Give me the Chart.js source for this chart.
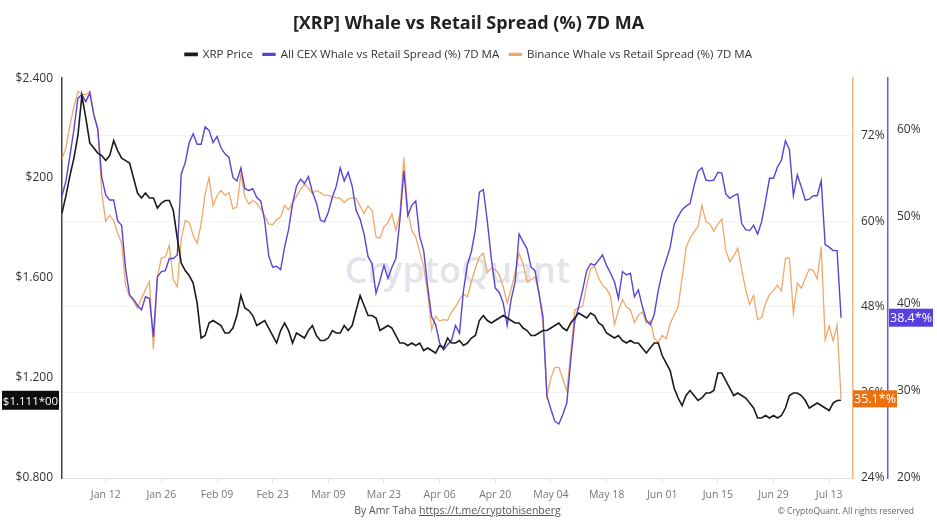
<!DOCTYPE html>
<html>
<head>
<meta charset="utf-8">
<script src="https://cdn.jsdelivr.net/npm/chart.js@4.4.1/dist/chart.umd.min.js"></script>
<style>
  body { margin: 0; background: #fff; }
  #wrap { position: relative; width: 937px; height: 527px; font-family: "Open Sans", sans-serif; }
  #footer-by { position: absolute; top: 503px; left: 62px; width: 791px; text-align: center; font-size: 10.5px; color: #555; }
  #footer-by a { color: #555; }
  #footer-copy { position: absolute; top: 505px; right: 23px; font-size: 8.5px; color: #666; }
</style>
</head>
<body>
<div id="wrap">
  <canvas id="chart" width="937" height="527"></canvas>
  <div id="footer-by">By Amr Taha <a href="#">https://t.me/cryptohisenberg</a></div>
  <div id="footer-copy">© CryptoQuant. All rights reserved</div>
</div>
<script>
// daily values, Jan 01 -> Jul 16
const xrpPrice = [
  1.86, 1.93, 2.01, 2.08, 2.17, 2.33, 2.24, 2.14, 2.12, 2.10,
  2.09, 2.07, 2.09, 2.15, 2.11, 2.08, 2.07, 2.06, 2.00, 1.94,
  1.92, 1.94, 1.92, 1.92, 1.88, 1.90, 1.91, 1.91, 1.87, 1.76,
  1.66, 1.63, 1.61, 1.58, 1.50, 1.36, 1.37, 1.42, 1.43, 1.42,
  1.41, 1.38, 1.38, 1.40, 1.45, 1.53, 1.48, 1.47, 1.45, 1.41,
  1.42, 1.43, 1.40, 1.37, 1.34, 1.39, 1.42, 1.39, 1.34, 1.38,
  1.37, 1.36, 1.39, 1.41, 1.37, 1.35, 1.35, 1.36, 1.39, 1.38,
  1.38, 1.41, 1.39, 1.41, 1.47, 1.53, 1.49, 1.45, 1.45, 1.44,
  1.39, 1.40, 1.41, 1.40, 1.37, 1.34, 1.34, 1.33, 1.34, 1.33,
  1.34, 1.31, 1.32, 1.31, 1.30, 1.33, 1.32, 1.36, 1.34, 1.34,
  1.35, 1.33, 1.34, 1.36, 1.37, 1.43, 1.45, 1.43, 1.42, 1.43,
  1.44, 1.45, 1.44, 1.43, 1.42, 1.42, 1.40, 1.39, 1.37, 1.37,
  1.38, 1.39, 1.39, 1.40, 1.41, 1.42, 1.40, 1.39, 1.42, 1.44,
  1.46, 1.45, 1.44, 1.46, 1.45, 1.42, 1.41, 1.38, 1.37, 1.36,
  1.37, 1.35, 1.34, 1.35, 1.34, 1.34, 1.32, 1.30, 1.32, 1.34,
  1.34, 1.29, 1.26, 1.23, 1.16, 1.12, 1.09, 1.13, 1.15, 1.13,
  1.11, 1.12, 1.14, 1.14, 1.15, 1.22, 1.22, 1.19, 1.16, 1.13,
  1.14, 1.13, 1.12, 1.10, 1.08, 1.04, 1.04, 1.05, 1.04, 1.05,
  1.04, 1.05, 1.08, 1.13, 1.14, 1.14, 1.13, 1.11, 1.08, 1.09,
  1.10, 1.09, 1.08, 1.07, 1.10, 1.11, 1.111
];

const allCexSpread = [
  52.4, 54.1, 57.0, 60.0, 63.6, 64.0, 63.2, 64.2, 61.7, 60.0,
  54.5, 52.5, 51.9, 51.9, 49.5, 49.0, 44.0, 41.0, 40.5, 39.8,
  39.3, 40.8, 40.6, 36.2, 43.1, 43.7, 43.8, 45.2, 45.2, 45.6,
  54.9, 56.2, 58.5, 59.5, 58.3, 58.3, 60.3, 59.9, 58.5, 59.2,
  57.9, 57.2, 56.8, 54.5, 54.1, 55.6, 53.2, 53.0, 53.2, 52.2,
  51.8, 49.5, 45.5, 44.2, 44.3, 43.9, 46.5, 48.5, 51.5, 53.5,
  54.3, 53.8, 54.6, 52.8, 51.6, 49.6, 49.4, 50.5, 52.2, 53.5,
  55.6, 54.1, 55.1, 53.5, 50.7, 49.7, 48.0, 45.4, 44.6, 41.2,
  42.7, 44.4, 42.9, 44.2, 45.2, 49.6, 55.3, 50.1, 51.3, 51.8,
  47.7, 46.1, 41.9, 38.5, 37.6, 35.5, 34.7, 35.3, 35.8, 37.5,
  36.6, 41.5, 44.5, 46.0, 48.5, 52.8, 53.1, 49.5, 45.2, 41.8,
  41.3, 40.1, 37.5, 40.5, 42.5, 48.0, 47.1, 46.3, 44.2, 43.8,
  41.2, 38.5, 29.4, 27.9, 26.5, 26.2, 27.3, 28.6, 33.6, 38.0,
  39.7, 41.6, 43.8, 44.6, 44.4, 45.0, 45.6, 44.4, 43.5, 42.5,
  40.6, 43.7, 43.3, 43.5, 40.8, 41.6, 39.7, 38.1, 37.6, 38.8,
  41.5, 43.6, 45.0, 46.5, 49.1, 50.0, 50.8, 51.2, 51.5, 53.5,
  55.2, 55.6, 54.2, 54.1, 54.2, 55.1, 55.0, 52.6, 52.1, 52.4,
  52.6, 49.2, 48.5, 48.4, 49.0, 48.0, 49.4, 51.8, 54.4, 54.4,
  55.7, 56.5, 58.7, 57.7, 52.4, 54.8, 53.4, 51.9, 52.0, 52.4,
  52.4, 54.1, 46.8, 46.5, 46.1, 46.1, 38.4
];

const binanceSpread = [
  68.7, 70.3, 73.5, 76.0, 78.2, 77.8, 77.7, 78.2, 75.0, 73.1,
  64.0, 60.0, 60.8, 60.1, 58.3, 56.9, 51.0, 49.5, 48.8, 47.8,
  49.2, 50.4, 51.5, 42.0, 52.2, 54.8, 55.0, 56.6, 51.8, 50.8,
  57.5, 60.1, 59.8, 58.0, 56.9, 59.6, 63.8, 66.1, 62.2, 63.6,
  64.3, 63.6, 64.0, 61.7, 62.0, 66.6, 63.4, 62.4, 62.9, 62.5,
  61.7, 60.8, 59.6, 59.5, 60.2, 60.6, 62.2, 61.6, 62.5, 63.5,
  64.4, 65.2, 64.6, 63.9, 64.3, 64.0, 63.6, 63.6, 63.4, 63.3,
  63.2, 62.6, 63.1, 63.3, 63.2, 62.1, 61.1, 62.1, 61.5, 57.8,
  57.6, 59.2, 59.8, 61.0, 58.7, 61.0, 68.9, 61.5, 58.7, 57.8,
  55.7, 53.6, 49.9, 44.8, 46.7, 46.0, 46.2, 46.1, 47.3, 48.0,
  49.0, 49.8, 49.4, 51.5, 53.4, 55.0, 55.5, 52.8, 53.4, 53.2,
  52.5, 50.8, 48.5, 50.5, 52.8, 55.5, 54.0, 51.5, 51.8, 52.2,
  49.9, 45.7, 35.5, 38.0, 39.5, 39.5, 37.9, 36.2, 41.5, 47.6,
  47.8, 48.1, 51.0, 53.4, 53.6, 52.0, 51.0, 50.5, 49.5, 45.5,
  47.5, 49.0, 48.0, 47.6, 45.8, 46.8, 47.3, 45.7, 46.0, 43.6,
  43.0, 44.0, 43.5, 45.7, 46.8, 48.0, 52.0, 56.3, 57.6, 58.5,
  59.2, 62.2, 59.9, 59.6, 58.6, 59.6, 60.3, 55.9, 54.3, 55.1,
  56.2, 53.2, 50.4, 48.3, 49.6, 46.2, 46.5, 48.5, 49.7, 50.3,
  51.0, 50.2, 54.8, 54.8, 47.1, 51.3, 50.6, 52.0, 53.3, 53.1,
  51.9, 56.4, 43.4, 45.3, 43.2, 45.4, 35.1
];

const xTickLabels = ["Jan 12", "Jan 26", "Feb 09", "Feb 23", "Mar 09", "Mar 23", "Apr 06",
  "Apr 20", "May 04", "May 18", "Jun 01", "Jun 15", "Jun 29", "Jul 13"];
const priceTickLabels = ["$0.800", "$1.200", "$1.600", "$200", "$2.400"];
const lastValueTexts = ["$1.111*00", "38.4*%", "35.1*%"];

// category labels: one per day, a few empty days at the end
const monthNames = ["Jan", "Feb", "Mar", "Apr", "May", "Jun", "Jul", "Aug", "Sep", "Oct", "Nov", "Dec"];
const dateLabels = [];
for (let i = 0; i < xrpPrice.length + 3; i++) {
  const d = new Date(2025, 0, 1 + i);
  dateLabels.push(monthNames[d.getMonth()] + " " + String(d.getDate()).padStart(2, "0"));
}

const FONT = "'Open Sans', 'Noto Sans', sans-serif";
const BLACK = "#1b1b1b";
const PURPLE = "#5a43d6";
const ORANGE = "#f0a868";

// a bit more room under the legend
const legendGap = {
  id: "legendGap",
  beforeInit(chart) {
    const fit = chart.legend.fit;
    chart.legend.fit = function () {
      fit.bind(chart.legend)();
      this.height += 8;
    };
  }
};

// faint watermark behind the lines
const watermark = {
  id: "watermark",
  beforeDatasetsDraw(chart) {
    const { ctx, chartArea } = chart;
    ctx.save();
    ctx.font = "600 36px " + FONT;
    ctx.fillStyle = "rgba(185, 185, 205, 0.4)";
    ctx.textAlign = "center";
    ctx.textBaseline = "middle";
    ctx.fillText("CryptoQuant", (chartArea.left + chartArea.right) / 2, 273);
    ctx.restore();
  }
};

// last value tags on the axes
const valueTags = {
  id: "valueTags",
  afterDraw(chart) {
    const { ctx } = chart;
    const s = chart.scales;
    const tag = (text, x, w, y, h, bg, size) => {
      ctx.fillStyle = bg;
      ctx.fillRect(x, y - h / 2, w, h);
      ctx.fillStyle = "#fff";
      ctx.font = size + "px " + FONT;
      ctx.textAlign = "center";
      ctx.textBaseline = "middle";
      ctx.fillText(text, x + w / 2, y + 1);
    };
    ctx.save();
    tag(lastValueTexts[0], 2, 57, s.price.getPixelForValue(xrpPrice[xrpPrice.length - 1]), 19, "#0d0d0d", 11.5);
    tag(lastValueTexts[1], s.cex.left + 1, 44, s.cex.getPixelForValue(allCexSpread[allCexSpread.length - 1]), 18, "#5a3fe0", 12.5);
    tag(lastValueTexts[2], s.binance.left, 44, s.binance.getPixelForValue(binanceSpread[binanceSpread.length - 1]), 17, "#ee6f0c", 12.5);
    ctx.restore();
  }
};

new Chart(document.getElementById("chart"), {
  type: "line",
  data: {
    labels: dateLabels,
    datasets: [
      { label: "XRP Price", data: xrpPrice, yAxisID: "price",
        borderColor: BLACK, backgroundColor: BLACK, borderWidth: 1.6 },
      { label: "All CEX Whale vs Retail Spread (%) 7D MA", data: allCexSpread, yAxisID: "cex",
        borderColor: PURPLE, backgroundColor: PURPLE, borderWidth: 1.4 },
      { label: "Binance Whale vs Retail Spread (%) 7D MA", data: binanceSpread, yAxisID: "binance",
        borderColor: ORANGE, backgroundColor: ORANGE, borderWidth: 1.3 }
    ]
  },
  options: {
    responsive: false,
    animation: false,
    layout: { padding: { top: 0, bottom: 24, left: 0, right: 0 } },
    elements: { point: { radius: 0 }, line: { tension: 0 } },
    plugins: {
      title: {
        display: true,
        text: "[XRP] Whale vs Retail Spread (%) 7D MA",
        color: "#222",
        font: { family: FONT, size: 18, weight: "bold" },
        padding: { top: 13, bottom: 4 }
      },
      legend: {
        labels: {
          color: "#333",
          font: { family: FONT, size: 11.5 },
          boxWidth: 12,
          boxHeight: 2,
          padding: 10
        }
      },
      tooltip: { enabled: false }
    },
    scales: {
      x: {
        grid: { drawOnChartArea: false, color: "#e2e2e2", tickLength: 5 },
        border: { color: "#e2e2e2" },
        afterBuildTicks: (scale) => {
          scale.ticks = scale.ticks.filter(t => xTickLabels.includes(dateLabels[t.value]));
        },
        ticks: {
          autoSkip: false, maxRotation: 0, padding: 6,
          color: "#777", font: { family: FONT, size: 10.5 }
        },
        afterFit: (scale) => { scale.height = 25; }
      },
      price: {
        position: "left",
        min: 0.8, max: 2.4,
        grid: { drawOnChartArea: false, drawTicks: false },
        border: { color: "#444", width: 1.5 },
        ticks: {
          stepSize: 0.4, padding: 9,
          color: "#333", font: { family: FONT, size: 12 },
          callback: (v, i) => priceTickLabels[i]
        },
        afterFit: (scale) => { scale.width = 62; }
      },
      binance: {
        position: "right",
        weight: 0,
        min: 24, max: 80.05,
        grid: { color: "#f2f2f2", drawTicks: false },
        border: { color: "#f3b47e", width: 1.5 },
        ticks: {
          stepSize: 12, padding: 8, includeBounds: false,
          color: "#333", font: { family: FONT, size: 12 },
          callback: (v) => v + "%"
        },
        afterFit: (scale) => { scale.width = 35; }
      },
      cex: {
        position: "right",
        weight: 1,
        min: 20, max: 65.9,
        grid: { drawOnChartArea: false, drawTicks: false },
        border: { color: "#6b5bd0", width: 1.5 },
        ticks: {
          stepSize: 10, padding: 9, includeBounds: false,
          color: "#333", font: { family: FONT, size: 12 },
          callback: (v) => v + "%"
        },
        afterFit: (scale) => { scale.width = 49; }
      }
    }
  },
  plugins: [legendGap, watermark, valueTags]
});
</script>
</body>
</html>
